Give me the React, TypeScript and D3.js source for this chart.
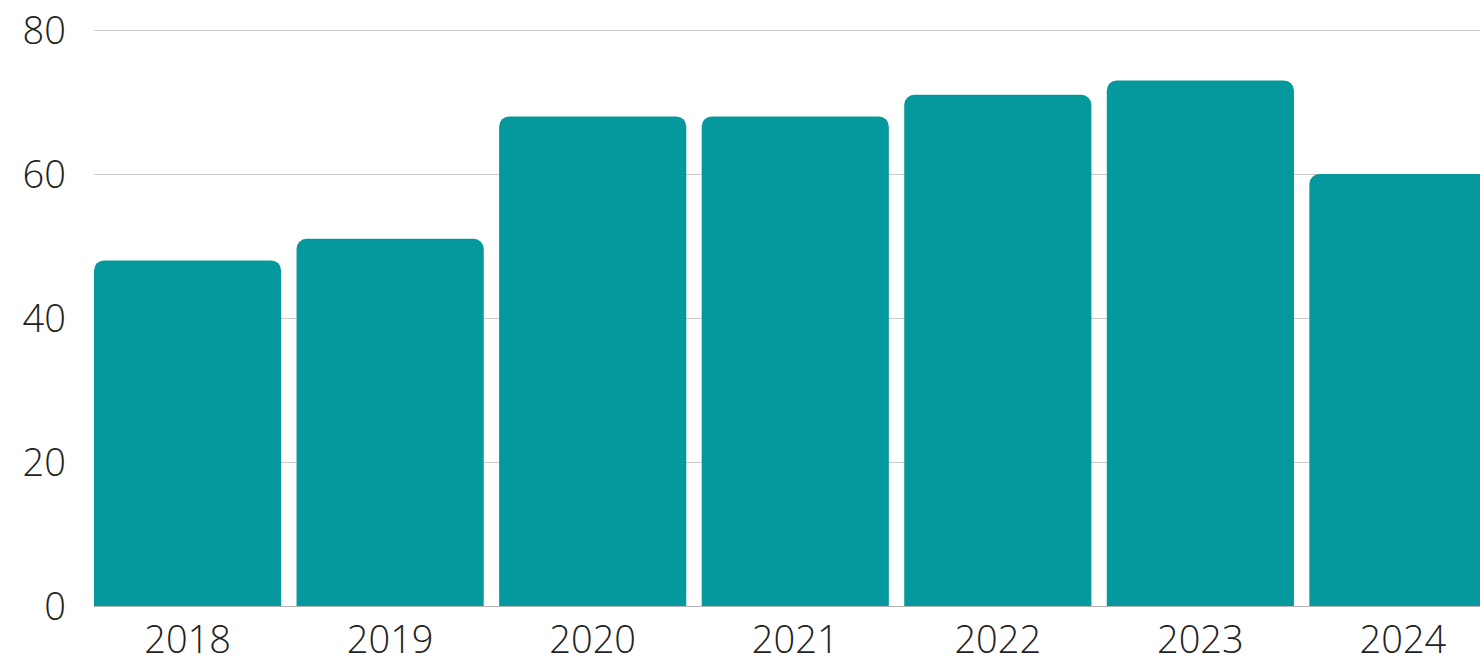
import React, { useEffect, useRef } from "react";
import * as d3 from "d3";

const years = ["2018", "2019", "2020", "2021", "2022", "2023", "2024"];
const values = [48, 51, 68, 68, 71, 73, 60];
const yTicks = [0, 20, 40, 60, 80];

const WIDTH = 1480;
const HEIGHT = 660;
const BAR_COLOR = "#05999e";

export default function App() {
  const svgRef = useRef<SVGSVGElement>(null);

  useEffect(() => {
    if (!svgRef.current) return;
    const svg = d3.select(svgRef.current);
    svg.selectAll("*").remove();

    const margin = { top: 30, left: 94, bottom: 54 };
    const plotBottom = HEIGHT - margin.bottom;

    const x = d3.scaleBand<string>()
      .domain(years)
      .range([margin.left, 1496.5])
      .paddingInner(0.076)
      .paddingOuter(0);

    const y = d3.scaleLinear()
      .domain([0, 80])
      .range([606, margin.top]);

    // gridlines
    svg.append("g")
      .selectAll("line")
      .data(yTicks.filter((t) => t > 0))
      .join("line")
      .attr("x1", margin.left)
      .attr("x2", WIDTH)
      .attr("y1", (d) => Math.round(y(d)) + 0.5)
      .attr("y2", (d) => Math.round(y(d)) + 0.5)
      .attr("stroke", "#cccccc")
      .attr("stroke-width", 1);

    // y labels
    svg.append("g")
      .selectAll("text")
      .data(yTicks)
      .join("text")
      .attr("x", 66)
      .attr("y", (d) => y(d))
      .attr("dy", "0.36em")
      .attr("text-anchor", "end")
      .attr("font-family", "'Open Sans', sans-serif")
      .attr("font-weight", 300)
      .attr("font-size", 38)
      .attr("fill", "#222")
      .text((d) => d);

    // bars, rounded at top only
    const r = 10;
    const barPath = (v: number, yr: string) => {
      const x0 = x(yr)!;
      const w = x.bandwidth();
      const top = y(v);
      const base = y(0);
      const p = d3.path();
      p.moveTo(x0, base);
      p.lineTo(x0, top + r);
      p.arcTo(x0, top, x0 + r, top, r);
      p.lineTo(x0 + w - r, top);
      p.arcTo(x0 + w, top, x0 + w, top + r, r);
      p.lineTo(x0 + w, base);
      p.closePath();
      return p.toString();
    };

    svg.append("g")
      .selectAll("path")
      .data(values)
      .join("path")
      .attr("d", (d, i) => barPath(d, years[i]))
      .attr("fill", BAR_COLOR);

    // baseline
    svg.append("line")
      .attr("x1", margin.left)
      .attr("x2", WIDTH)
      .attr("y1", 606.5)
      .attr("y2", 606.5)
      .attr("stroke", "#b3b3b3")
      .attr("stroke-width", 1);

    // x labels
    svg.append("g")
      .selectAll("text")
      .data(years)
      .join("text")
      .attr("x", (d) => x(d)! + x.bandwidth() / 2)
      .attr("y", plotBottom + 47)
      .attr("text-anchor", "middle")
      .attr("font-family", "'Open Sans', sans-serif")
      .attr("font-weight", 300)
      .attr("font-size", 38)
      .attr("fill", "#222")
      .text((d) => d);
  }, []);

  return (
    <div>
      <style>{`body { margin: 0; }`}</style>
      <svg
        ref={svgRef}
        width={WIDTH}
        height={HEIGHT}
        style={{ display: "block", background: "#fff" }}
      />
    </div>
  );
}
